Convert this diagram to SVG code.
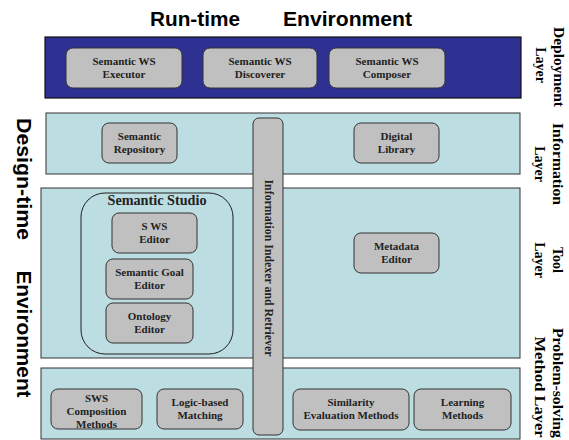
<svg xmlns="http://www.w3.org/2000/svg" width="569" height="440" viewBox="0 0 569 440">
<style>
.band{fill:#bcdde1;stroke:#333;stroke-width:1}
.dep{fill:#2e3192;stroke:#111;stroke-width:1.2}
.box{fill:#c0c0c0;stroke:#333;stroke-width:1}
.studio{fill:none;stroke:#222;stroke-width:1}
.t{font-family:"Liberation Serif","Times New Roman",serif;font-weight:bold;font-size:11px;fill:#222;text-anchor:middle}
.lab{font-family:"Liberation Serif","Times New Roman",serif;font-weight:bold;font-size:14px;fill:#000;text-anchor:middle}
.env{font-family:"Liberation Sans",Arial,sans-serif;font-weight:bold;font-size:20px;fill:#000}
</style>
<rect width="569" height="440" fill="#fff"/>
<g id="titles">
<text class="env" x="150" y="26" textLength="90" lengthAdjust="spacingAndGlyphs">Run-time</text>
<text class="env" x="283" y="26" textLength="129" lengthAdjust="spacingAndGlyphs">Environment</text>
<text class="env" transform="translate(17,179) rotate(90)" text-anchor="middle" textLength="122" lengthAdjust="spacingAndGlyphs">Design-time</text>
<text class="env" transform="translate(17,334) rotate(90)" text-anchor="middle" textLength="127" lengthAdjust="spacingAndGlyphs">Environment</text>
</g>
<g id="layers">
<rect id="deployment-layer" class="dep" x="45" y="37" width="476" height="61"/>
<rect id="information-layer" class="band" x="46" y="113" width="474" height="61"/>
<rect id="tool-layer" class="band" x="41" y="188" width="479" height="170"/>
<rect id="psm-layer" class="band" x="41" y="368" width="479" height="71"/>
</g>
<g id="layer-labels">
<text class="lab" transform="translate(554,67) rotate(90)" textLength="80" lengthAdjust="spacingAndGlyphs">Deployment</text>
<text class="lab" transform="translate(536,65) rotate(90)">Layer</text>
<text class="lab" transform="translate(553,164) rotate(90)" textLength="82" lengthAdjust="spacingAndGlyphs">Information</text>
<text class="lab" transform="translate(535,164) rotate(90)">Layer</text>
<text class="lab" transform="translate(553,260) rotate(90)">Tool</text>
<text class="lab" transform="translate(535,260) rotate(90)">Layer</text>
<text class="lab" transform="translate(553,383) rotate(90)" textLength="110" lengthAdjust="spacingAndGlyphs">Problem-solving</text>
<text class="lab" transform="translate(535,387) rotate(90)" textLength="101" lengthAdjust="spacingAndGlyphs">Method Layer</text>
</g>
<g id="executor"><rect class="box" x="66" y="48" width="116" height="40" rx="7"/><text class="t" x="124" y="65">Semantic WS</text><text class="t" x="124" y="78">Executor</text></g>
<g id="discoverer"><rect class="box" x="203" y="48" width="114" height="40" rx="7"/><text class="t" x="260" y="65">Semantic WS</text><text class="t" x="260" y="78">Discoverer</text></g>
<g id="composer"><rect class="box" x="329" y="48" width="116" height="40" rx="7"/><text class="t" x="387" y="65">Semantic WS</text><text class="t" x="387" y="78">Composer</text></g>
<g id="repository"><rect class="box" x="102" y="123" width="75" height="40" rx="7"/><text class="t" x="139.5" y="140">Semantic</text><text class="t" x="139.5" y="153">Repository</text></g>
<g id="library"><rect class="box" x="354" y="123" width="85" height="40" rx="7"/><text class="t" x="396.5" y="140">Digital</text><text class="t" x="396.5" y="153">Library</text></g>
<g id="studio"><rect class="studio" x="81" y="193" width="152" height="161" rx="24"/><text class="t" x="157" y="205" style="font-size:14px" textLength="99" lengthAdjust="spacingAndGlyphs">Semantic Studio</text></g>
<g id="sws-editor"><rect class="box" x="112" y="213" width="85" height="40" rx="7"/><text class="t" x="154.5" y="230">S WS</text><text class="t" x="154.5" y="243">Editor</text></g>
<g id="goal-editor"><rect class="box" x="106" y="259" width="87" height="40" rx="7"/><text class="t" x="149.5" y="276">Semantic Goal</text><text class="t" x="149.5" y="289">Editor</text></g>
<g id="ontology-editor"><rect class="box" x="106" y="303" width="87" height="40" rx="7"/><text class="t" x="149.5" y="320">Ontology</text><text class="t" x="149.5" y="333">Editor</text></g>
<g id="metadata-editor"><rect class="box" x="354" y="233" width="85" height="40" rx="7"/><text class="t" x="396.5" y="250">Metadata</text><text class="t" x="396.5" y="263">Editor</text></g>
<g id="composition-methods"><rect class="box" x="51" y="389" width="91" height="40" rx="7"/><text class="t" x="96.5" y="402">SWS</text><text class="t" x="96.5" y="415">Composition</text><text class="t" x="96.5" y="428">Methods</text></g>
<g id="logic-matching"><rect class="box" x="157" y="389" width="86" height="40" rx="7"/><text class="t" x="200" y="406">Logic-based</text><text class="t" x="200" y="419">Matching</text></g>
<g id="similarity"><rect class="box" x="293" y="389" width="116" height="41" rx="7"/><text class="t" x="351" y="406">Similarity</text><text class="t" x="351" y="419">Evaluation Methods</text></g>
<g id="learning"><rect class="box" x="414" y="389" width="97" height="41" rx="7"/><text class="t" x="462.5" y="406">Learning</text><text class="t" x="462.5" y="419">Methods</text></g>
<g id="indexer"><rect class="box" x="253" y="118" width="30" height="317" rx="6"/><text class="t" style="font-size:12px" transform="translate(265,268) rotate(90)" textLength="177" lengthAdjust="spacingAndGlyphs">Information Indexer and Retriever</text></g>
<g id="connectors"></g>
</svg>
